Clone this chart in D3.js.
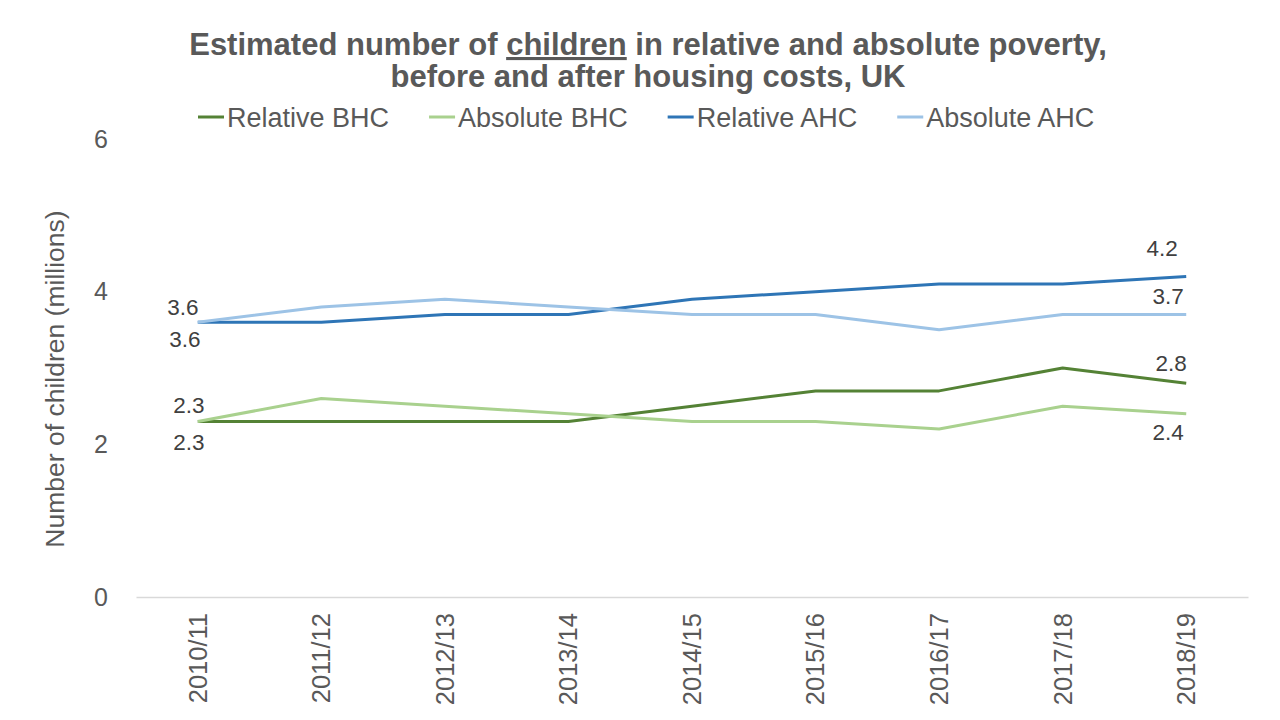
<!DOCTYPE html>
<html>
<head>
<meta charset="utf-8">
<script src="https://cdn.jsdelivr.net/npm/d3@7"></script>
<style>
  body { margin: 0; background: #fff; }
  text { font-family: "Liberation Sans", Arial, sans-serif; }
</style>
</head>
<body>
<div id="chart-container"></div>
<script>
const years = ["2010/11", "2011/12", "2012/13", "2013/14", "2014/15", "2015/16", "2016/17", "2017/18", "2018/19"];
const relativeBHC = [2.3, 2.3, 2.3, 2.3, 2.5, 2.7, 2.7, 3.0, 2.8];
const absoluteBHC = [2.3, 2.6, 2.5, 2.4, 2.3, 2.3, 2.2, 2.5, 2.4];
const relativeAHC = [3.6, 3.6, 3.7, 3.7, 3.9, 4.0, 4.1, 4.1, 4.2];
const absoluteAHC = [3.6, 3.8, 3.9, 3.8, 3.7, 3.7, 3.5, 3.7, 3.7];
const yTicks = [0, 2, 4, 6];

const series = [
  { name: "Relative BHC", values: relativeBHC, color: "#548235" },
  { name: "Absolute BHC", values: absoluteBHC, color: "#a9d18e" },
  { name: "Relative AHC", values: relativeAHC, color: "#2e75b6" },
  { name: "Absolute AHC", values: absoluteAHC, color: "#9dc3e6" },
];

// data labels only on first and last points, offsets
const labels = [
  { s: 3, i: 0, dx: -15, dy: -15 },
  { s: 2, i: 0, dx: -13, dy: 17 },
  { s: 1, i: 0, dx: -9, dy: -16 },
  { s: 0, i: 0, dx: -9, dy: 21 },
  { s: 2, i: 8, dx: -24, dy: -28 },
  { s: 3, i: 8, dx: -18, dy: -18 },
  { s: 0, i: 8, dx: -15, dy: -20 },
  { s: 1, i: 8, dx: -18, dy: 18 },
];

const width = 1280;
const height = 720;

const svg = d3
  .select("#chart-container")
  .append("svg")
  .attr("width", width)
  .attr("height", height);

const x = d3.scaleBand().domain(years).range([136, 1248]);
const y = d3.scaleLinear().domain([0, 6]).range([597, 139]);
const cx = (d) => x(d) + x.bandwidth() / 2;

// title
const title = svg
  .append("text")
  .attr("text-anchor", "middle")
  .attr("fill", "#595959")
  .style("font-size", "31px")
  .style("font-weight", "bold");
const l1 = title.append("tspan").attr("x", 648).attr("y", 55);
l1.append("tspan").text("Estimated number of ");
l1.append("tspan").style("text-decoration", "underline").text("children");
l1.append("tspan").text(" in relative and absolute poverty,");
title.append("tspan").attr("x", 648).attr("y", 87).text("before and after housing costs, UK");

// legend
let lx = 198;
series.forEach((s) => {
  const g = svg.append("g");
  g.append("line")
    .attr("x1", lx).attr("x2", lx + 26)
    .attr("y1", 117).attr("y2", 117)
    .attr("stroke", s.color).attr("stroke-width", 3);
  const t = g.append("text")
    .attr("x", lx + 29).attr("y", 127)
    .attr("fill", "#595959")
    .style("font-size", "27px")
    .text(s.name);
  lx += 29 + t.node().getComputedTextLength() + 40;
});

// y axis
const yAxis = svg.append("g")
  .attr("transform", "translate(136,0)")
  .call(d3.axisLeft(y).tickValues(yTicks).tickFormat(d3.format("d")).tickSize(0).tickPadding(28));
yAxis.select(".domain").remove();
yAxis.selectAll("text")
  .attr("fill", "#595959")
  .style("font-size", "25px")
  .style("font-family", "'Liberation Sans', Arial, sans-serif");

svg.append("text")
  .attr("transform", "translate(64,379) rotate(-90)")
  .attr("text-anchor", "middle")
  .attr("fill", "#595959")
  .style("font-size", "26.5px")
  .text("Number of children (millions)");

// x axis
const xAxis = svg.append("g")
  .attr("transform", `translate(0,${y(0)})`)
  .call(d3.axisBottom(x).tickSize(0).tickPadding(0));
xAxis.select(".domain").attr("stroke", "#d9d9d9").attr("stroke-width", 1.3);
xAxis.selectAll(".tick text")
  .attr("transform", "rotate(-90)")
  .attr("text-anchor", "end")
  .attr("x", -16)
  .attr("y", 0)
  .attr("dy", "0.35em")
  .attr("fill", "#595959")
  .style("font-size", "25.5px")
  .style("font-family", "'Liberation Sans', Arial, sans-serif");

// lines
const line = d3.line()
  .x((d, i) => cx(years[i]))
  .y((d) => y(d));

svg.selectAll(".series")
  .data(series)
  .join("path")
  .attr("class", "series")
  .attr("fill", "none")
  .attr("stroke", (d) => d.color)
  .attr("stroke-width", 3)
  .attr("stroke-linejoin", "round")
  .attr("d", (d) => line(d.values));

// data labels
svg.selectAll(".dlabel")
  .data(labels)
  .join("text")
  .attr("class", "dlabel")
  .attr("x", (d) => cx(years[d.i]) + d.dx)
  .attr("y", (d) => y(series[d.s].values[d.i]) + d.dy)
  .attr("dy", "0.35em")
  .attr("text-anchor", "middle")
  .attr("fill", "#404040")
  .style("font-size", "22.5px")
  .text((d) => series[d.s].values[d.i].toFixed(1));
</script>
</body>
</html>
